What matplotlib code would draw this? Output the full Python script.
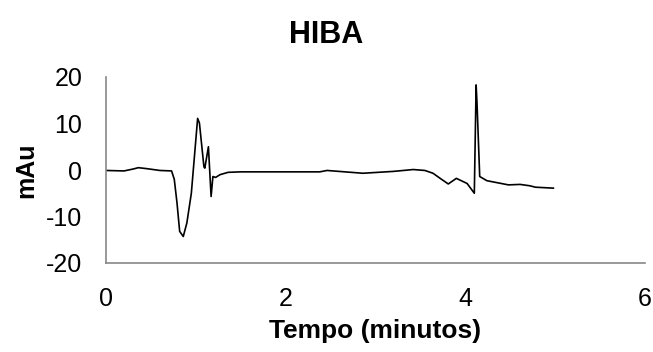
import matplotlib
matplotlib.use("Agg")
import matplotlib.pyplot as plt
import numpy as np

plt.rcParams['font.family'] = ['Liberation Sans', 'DejaVu Sans']
plt.rcParams['axes.unicode_minus'] = False

# HIBA chromatogram, detector signal vs retention time
tempo = [0.00, 0.20, 0.30, 0.36, 0.45, 0.60, 0.73, 0.76, 0.79, 0.82, 0.86, 0.90,
         0.95, 1.02, 1.04, 1.09, 1.10, 1.14, 1.17, 1.19, 1.22, 1.27, 1.36, 1.50,
         2.00, 2.38, 2.46, 2.86, 3.20, 3.42, 3.55, 3.64, 3.72, 3.81, 3.90, 4.02,
         4.10, 4.12, 4.13, 4.16, 4.24, 4.48, 4.61, 4.72, 4.78, 4.98]
sinal = [-0.1, -0.2, 0.2, 0.5, 0.3, -0.1, -0.2, -2.0, -7.0, -13.2, -14.3, -11.4,
         -5.0, 11.1, 10.1, 0.7, 0.4, 5.0, -5.7, -1.4, -1.6, -1.0, -0.5, -0.4,
         -0.4, -0.4, -0.1, -0.7, -0.3, 0.1, -0.1, -0.7, -1.8, -3.0, -1.8, -2.9,
         -5.0, 18.3, 14.4, -1.4, -2.3, -3.2, -3.1, -3.4, -3.7, -3.9]

W, H = 653, 352
fig = plt.figure(figsize=(W / 100, H / 100), dpi=100)
ax = fig.add_axes([106 / W, 1 - 263 / H, (645 - 106) / W, (263 - 77) / H])
ax.plot(tempo, sinal, color='black', linewidth=1.2)

ax.set_xlim(0, 6)
ax.set_ylim(-20, 20)
ax.set_xticks(np.arange(0, 7, 2))
ax.set_yticks(np.arange(-20, 21, 10))
ax.tick_params(length=0, labelsize=18)
ax.tick_params(axis='x', pad=17.5)
ax.tick_params(axis='y', pad=17)

for side in ['top', 'right']:
    ax.spines[side].set_visible(False)
for side in ['left', 'bottom']:
    ax.spines[side].set_color('#888888')
    ax.spines[side].set_linewidth(1.2)

# title and axis titles placed in pixel terms
fig.text(0.5, 1 - 43 / H, 'HIBA', fontsize=22, fontweight='bold',
         ha='center', va='baseline')
fig.text(375.5 / W, 1 - 338 / H, 'Tempo (minutos)', fontsize=19,
         fontweight='bold', ha='center', va='baseline')
fig.text(33 / W, 1 - 170 / H, 'mAu', fontsize=18, fontweight='bold',
         rotation=90, rotation_mode='anchor', ha='center', va='baseline')

fig.savefig('out.png', dpi=100)
